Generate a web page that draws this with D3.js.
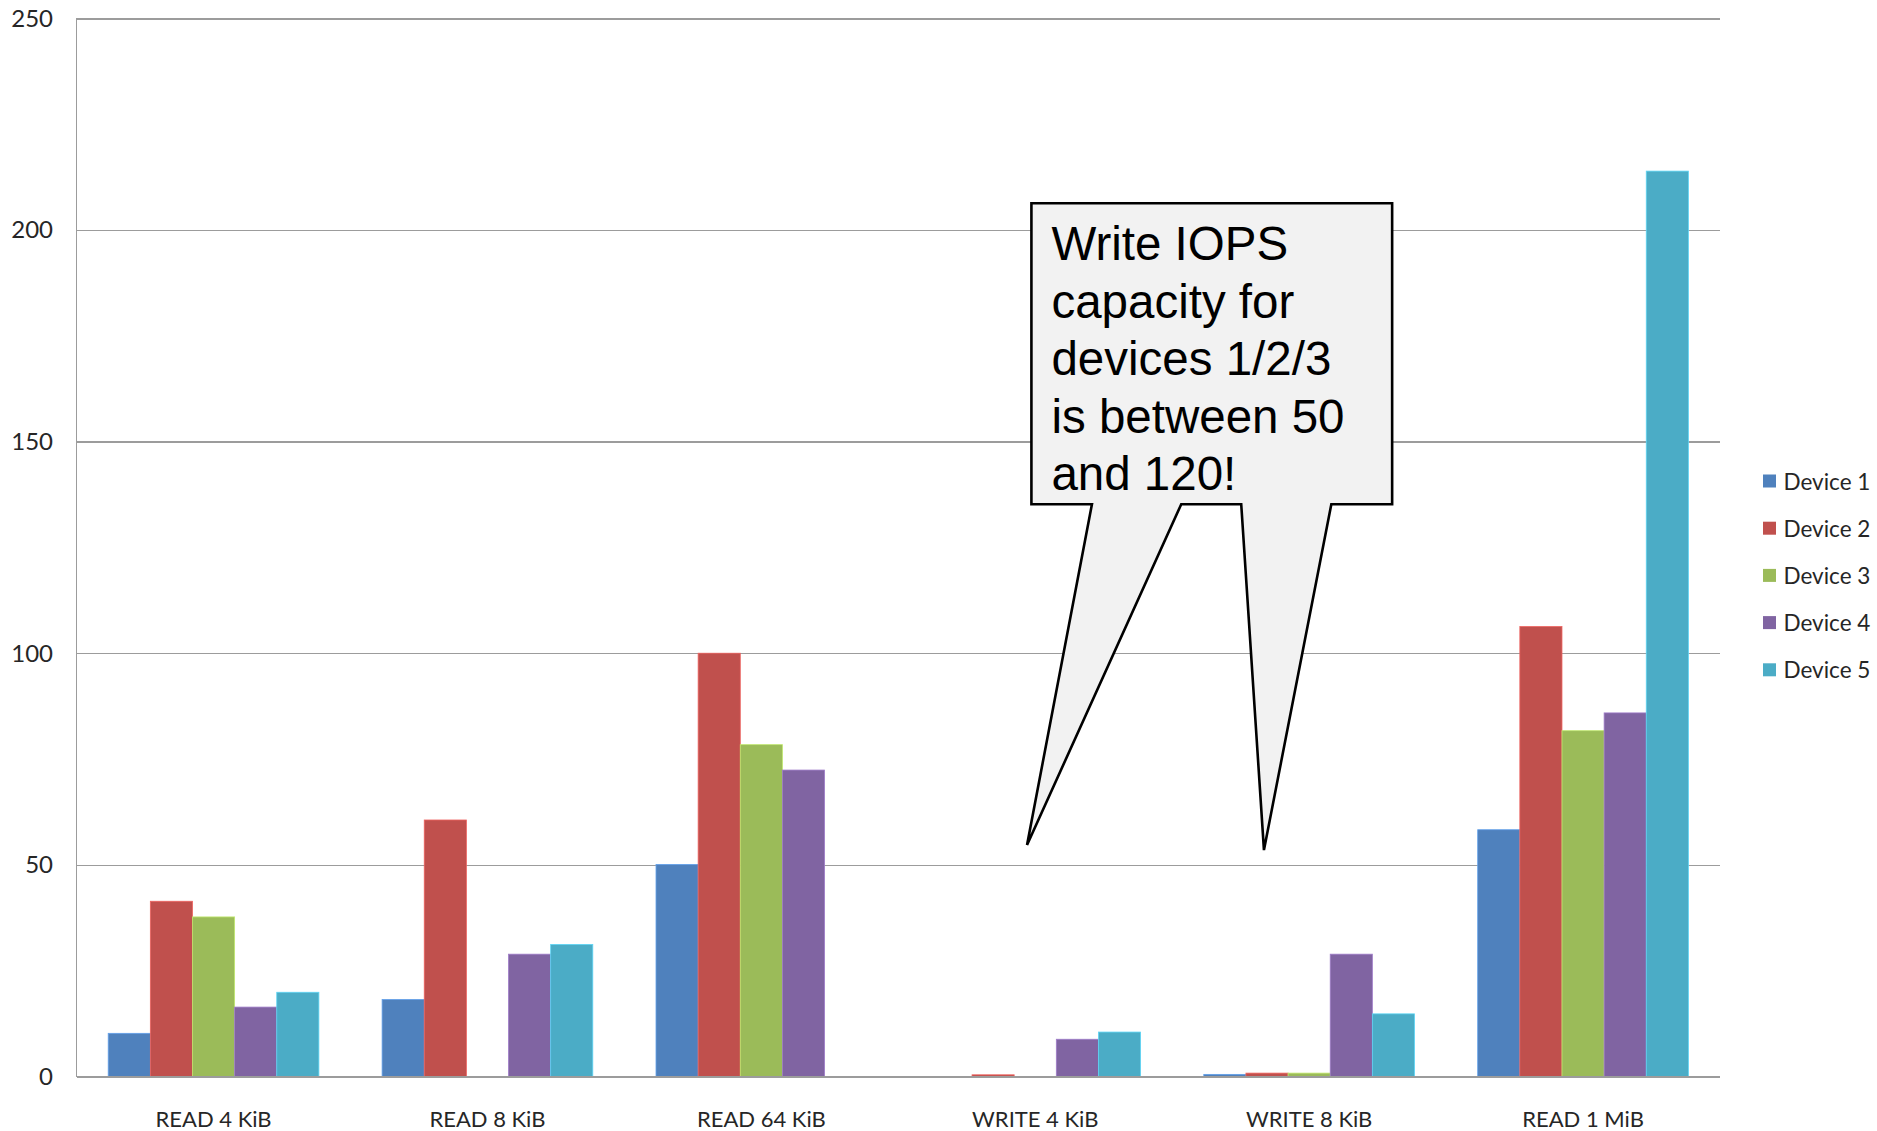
<!DOCTYPE html>
<html>
<head>
<meta charset="utf-8">
<script src="https://cdn.jsdelivr.net/npm/d3@7"></script>
<style>
  html, body { margin: 0; padding: 0; background: #fff; }
  svg { display: block; }
  .tick-label, .cat-label, .legend-label { font-family: Lato, "Open Sans", sans-serif; fill: #262626; }
  .note { font-family: "Liberation Sans", Arial, sans-serif; fill: #000; }
</style>
</head>
<body>
<svg id="chart" width="1877" height="1131"></svg>
<script>
// Workload categories along the x axis
const categories = ["READ 4 KiB", "READ 8 KiB", "READ 64 KiB", "WRITE 4 KiB", "WRITE 8 KiB", "READ 1 MiB"];
const devices = ["Device 1", "Device 2", "Device 3", "Device 4", "Device 5"];

// Measured IOPS per device, one value per category
const device1 = [10.2, 18.2, 50.1, 0, 0.5, 58.3];
const device2 = [41.4, 60.6, 100, 0.4, 0.8, 106.3];
const device3 = [37.7, 0, 78.4, 0, 0.8, 81.7];
const device4 = [16.4, 28.9, 72.4, 8.8, 28.9, 85.9];
const device5 = [19.9, 31.2, 0, 10.5, 14.8, 213.9];
const series = [device1, device2, device3, device4, device5];

const yTicks = [0, 50, 100, 150, 200, 250];
const colors = ["#4F81BD", "#C0504D", "#9BBB59", "#8064A2", "#4BACC6"];

const noteLines = ["Write IOPS", "capacity for", "devices 1/2/3", "is between 50", "and 120!"];

const svg = d3.select("#chart");
const plot = { left: 76.6, right: 1720, top: 18.3, bottom: 1076.5 };

const x = d3.scaleBand().domain(categories).range([plot.left, plot.right]).paddingInner(0).paddingOuter(0);
const xInner = d3.scaleBand().domain(devices).range([0, x.bandwidth()]).paddingInner(0).paddingOuter(0.75);
const y = d3.scaleLinear().domain([0, 250]).range([plot.bottom, plot.top]);
// continuous position along the category axis (index units), used for the callout
const xc = d3.scaleLinear().domain([0, categories.length]).range([plot.left, plot.right]);

// horizontal gridlines
const yAxis = d3.axisLeft(y).tickValues(yTicks).tickSize(-(plot.right - plot.left)).tickFormat("");
const gGrid = svg.append("g").attr("transform", `translate(${plot.left},0)`).call(yAxis);
gGrid.select(".domain").remove();
gGrid.selectAll(".tick line").attr("stroke", "#9c9c9c").attr("stroke-width", 1.4).attr("shape-rendering", "crispEdges");

// y tick labels
svg.append("g").selectAll("text").data(yTicks).join("text")
  .attr("class", "tick-label")
  .attr("x", 53).attr("y", d => y(d) - 1)
  .attr("text-anchor", "end").attr("dominant-baseline", "central")
  .attr("font-size", 24)
  .text(d => d);

// bars
const groups = svg.append("g").selectAll("g").data(categories).join("g")
  .attr("transform", d => `translate(${x(d)},0)`);
groups.selectAll("rect")
  .data((c, i) => devices.map((dev, k) => ({ dev, k, v: series[k][i] })))
  .join("rect")
  .attr("x", d => xInner(d.dev))
  .attr("width", xInner.bandwidth())
  .attr("y", d => y(d.v))
  .attr("height", d => y(0) - y(d.v))
  .attr("fill", d => colors[d.k])
  .attr("stroke", d => d.v > 0 ? d3.color(colors[d.k]).brighter(0.6) : "none")
  .attr("stroke-width", 0.8);

// axes lines
svg.append("line").attr("x1", plot.left).attr("x2", plot.left).attr("y1", plot.top).attr("y2", plot.bottom)
  .attr("stroke", "#9c9c9c").attr("stroke-width", 1.4).attr("shape-rendering", "crispEdges");
svg.append("line").attr("x1", plot.left).attr("x2", plot.right).attr("y1", plot.bottom).attr("y2", plot.bottom)
  .attr("stroke", "#9c9c9c").attr("stroke-width", 1.4).attr("shape-rendering", "crispEdges");

// category labels
svg.append("g").selectAll("text").data(categories).join("text")
  .attr("class", "cat-label")
  .attr("x", d => x(d) + x.bandwidth() / 2)
  .attr("y", 1126.5)
  .attr("text-anchor", "middle")
  .attr("font-size", 22)
  .text(d => d);

// legend
const legend = svg.append("g").selectAll("g").data(devices).join("g")
  .attr("transform", (d, i) => `translate(1763,${481 + i * 47.2})`);
legend.append("rect").attr("x", 0).attr("y", -6.5).attr("width", 13).attr("height", 13)
  .attr("fill", (d, i) => colors[i]);
legend.append("text").attr("class", "legend-label")
  .attr("x", 20.5).attr("y", 0).attr("dominant-baseline", "central")
  .attr("font-size", 22.5)
  .text(d => d);

// callout: box with two pointers toward the write workloads
const box = { x0: xc(3.486), x1: xc(4.803), y0: y(206.3), y1: y(135.2) };
const ptr1 = { a: xc(3.707), b: xc(4.033), tx: xc(3.470), ty: y(54.7) };
const ptr2 = { a: xc(4.252), b: xc(4.581), tx: xc(4.335), ty: y(53.5) };
const p = d3.path();
p.moveTo(box.x0, box.y0);
p.lineTo(box.x1, box.y0);
p.lineTo(box.x1, box.y1);
p.lineTo(ptr2.b, box.y1);
p.lineTo(ptr2.tx, ptr2.ty);
p.lineTo(ptr2.a, box.y1);
p.lineTo(ptr1.b, box.y1);
p.lineTo(ptr1.tx, ptr1.ty);
p.lineTo(ptr1.a, box.y1);
p.lineTo(box.x0, box.y1);
p.closePath();
svg.append("path").attr("d", p.toString())
  .attr("fill", "#f2f2f2").attr("stroke", "#000").attr("stroke-width", 2.6)
  .attr("stroke-linejoin", "miter");

svg.append("g").selectAll("text").data(noteLines).join("text")
  .attr("class", "note")
  .attr("x", box.x0 + 20)
  .attr("y", (d, i) => 260 + i * 57.5)
  .attr("font-size", 47.5)
  .text(d => d);
</script>
</body>
</html>
